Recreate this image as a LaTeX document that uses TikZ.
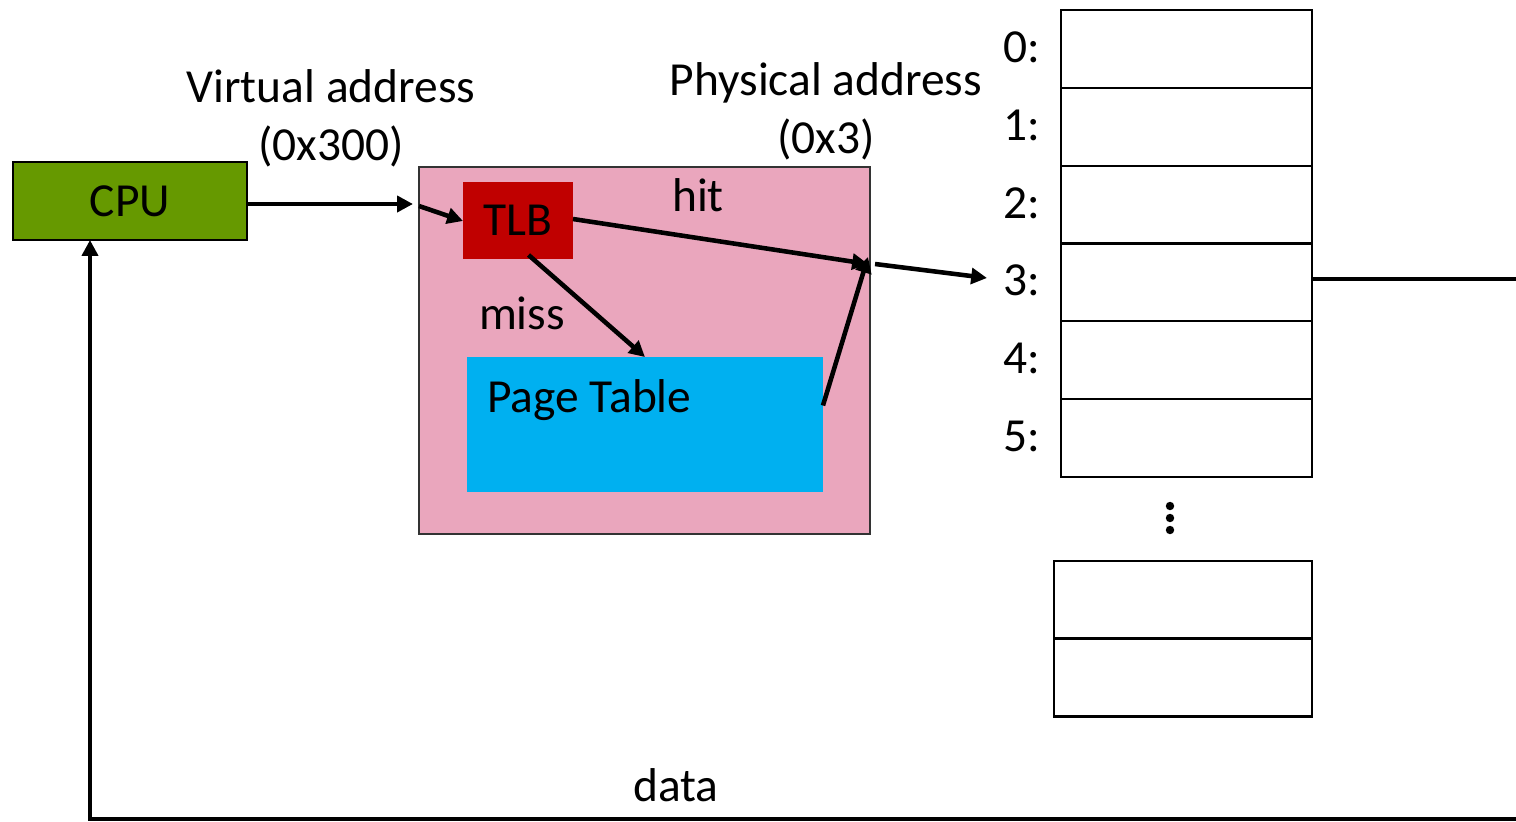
\documentclass[tikz,border=0pt]{standalone}
\usepackage{fontspec}
\setmainfont{Carlito}
\usetikzlibrary{arrows.meta,calc}

\definecolor{cpugreen}{RGB}{102,153,0}
\definecolor{mmupink}{RGB}{234,166,189}
\definecolor{tlbred}{RGB}{192,0,0}
\definecolor{ptblue}{RGB}{0,176,240}

\tikzset{
  lbl/.style={font=\fontsize{27}{33}\selectfont, inner sep=0pt, align=center},
  block/.style={inner sep=0pt, outer sep=0pt, font=\fontsize{27}{33}\selectfont},
  cell/.style={draw=black, line width=1.3pt, fill=white, inner sep=0pt, outer sep=0pt,
               minimum width=5.02cm, minimum height=1.56cm},
  arr/.style={line width=2.6pt, -{Triangle[length=9pt,width=9pt]}}
}

\begin{document}
\begin{tikzpicture}[x=0.02cm, y=-0.02cm]
\useasboundingbox (0,0) rectangle (1516,822);
\begin{scope}
\clip (0,0) rectangle (1516,822);

% processor
\node[block, draw=black, line width=0.8pt, fill=cpugreen, minimum width=4.68cm, minimum height=1.56cm]
  (cpu) at (130,201) {CPU};

% translation unit with its TLB and page table
\node[block, draw=black!80, line width=0.8pt, fill=mmupink, minimum width=9.02cm, minimum height=7.34cm]
  (mmu) at (644.5,350.5) {};
\node[block, fill=tlbred, minimum width=2.2cm, minimum height=1.54cm] (tlb) at (518,220.5) {TLB};
\node[block, fill=ptblue, minimum width=7.12cm, minimum height=2.7cm] (pt) at (645,424.5) {};
\node[lbl, anchor=west] (ptlbl) at (487,400) {Page Table};

% address labels
\node[lbl] (vaddr) at (331,118) {Virtual address\\(0x300)};
\node[lbl] (paddr) at (826,111) {Physical address\\(0x3)};
\node[lbl] (hit) at (698,195) {hit};
\node[lbl] (miss) at (522,313) {miss};
\node[lbl] (data) at (676,785) {data};

% physical memory frames
\foreach \i/\y in {0/49, 1/127, 2/205, 3/282.5, 4/360, 5/438} {
  \node[cell] (m\i) at (1186.5,\y) {};
  \node[lbl, anchor=east] (l\i) at (1041,\y-2) {\i:};
}
\node[cell, minimum width=5.16cm] (n1) at (1183,600) {};
\node[cell, minimum width=5.16cm] (n2) at (1183,677.5) {};
\foreach \y in {506,518,530}
  \fill (1170,\y) circle (2.4pt);

% junction where the physical address leaves the unit
\coordinate (pa) at (868,264);

% address path
\draw[arr] (cpu.east |- 0,204) -- (413,204);
\draw[arr] (mmu.west |- 0,206) -- (tlb.west |- 0,221);
\draw[arr] (tlb.east |- 0,219) -- (pa);
\draw[arr] ([xshift=6pt]tlb.south |- 0,255) -- (pt.north);
\draw[arr] ([yshift=0.38cm]pt.east) -- ([yshift=4pt]pa);
\draw[arr] ([xshift=4pt]pa) -- (987,278);

% data returning to the processor
\draw[arr] (m3.east |- 0,279) -- (1540,279) -- (1540,819) -- (90,819) -- (cpu.south -| 90,0);
\end{scope}
\end{tikzpicture}
\end{document}
